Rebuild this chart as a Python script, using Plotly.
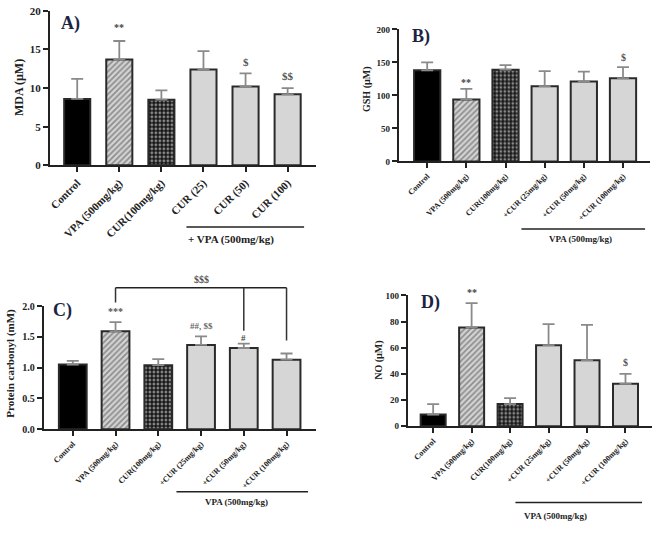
import plotly.graph_objects as go

# ---------------- data ----------------
labels_a = ["Control", "VPA (500mg/kg)", "CUR(100mg/kg)", "CUR (25)", "CUR (50)", "CUR (100)"]
labels_bcd = ["Control", "VPA (500mg/kg)", "CUR(100mg/kg)", "+CUR (25mg/kg)", "+CUR (50mg/kg)", "+CUR (100mg/kg)"]

mda_mean = [8.6, 13.7, 8.5, 12.4, 10.2, 9.2]
mda_top = [11.2, 16.1, 9.7, 14.8, 11.9, 10.0]

gsh_mean = [138, 94, 139, 114, 121, 126]
gsh_top = [150, 110, 146, 137, 136, 143]

pc_mean = [1.05, 1.59, 1.04, 1.37, 1.32, 1.13]
pc_top = [1.11, 1.74, 1.14, 1.51, 1.39, 1.23]

no_mean = [9, 75.5, 17, 62, 50.5, 32.5]
no_top = [17, 94, 21.5, 78, 77.5, 40]

# ---------------- style ----------------
SERIF = "Liberation Serif, Times New Roman, serif"
AX = "#222222"
fill_colors = ["#000000", "#d2d2d2", "#151515", "#d6d6d6", "#d6d6d6", "#d6d6d6"]
pat_shapes = ["", "/", ".", "", "", ""]
pat_fg = ["#000000", "#555555", "#ffffff", "#000000", "#000000", "#000000"]

fig = go.Figure()

panels = [
    dict(ax="", labels=labels_a, mean=mda_mean, top=mda_top,
         xdom=[48/661, 315/661], ydom=[1-163/534, 1-5/534],
         yrange=[0, 20], dtick=5, fmt="", xr=[-0.65, 5.675], bw=0.62, tfs=11, yfs=11),
    dict(ax="2", labels=labels_bcd, mean=gsh_mean, top=gsh_top,
         xdom=[398/661, 650/661], ydom=[1-159/534, 1-24/534],
         yrange=[0, 200], dtick=50, fmt="", xr=[-0.725, 5.69], bw=0.67, tfs=8, yfs=9),
    dict(ax="3", labels=labels_bcd, mean=pc_mean, top=pc_top,
         xdom=[42/661, 315/661], ydom=[1-433/534, 1-307/534],
         yrange=[0, 2.0], dtick=0.5, fmt=".1f", xr=[-0.676, 5.69], bw=0.65, tfs=8, yfs=10),
    dict(ax="4", labels=labels_bcd, mean=no_mean, top=no_top,
         xdom=[407/661, 652/661], ydom=[1-430/534, 1-296/534],
         yrange=[0, 100], dtick=20, fmt="", xr=[-0.66, 5.69], bw=0.65, tfs=8, yfs=9),
]

for p in panels:
    err = [t - m for t, m in zip(p["top"], p["mean"])]
    fig.add_trace(go.Bar(
        x=p["labels"], y=p["mean"], width=p["bw"],
        xaxis="x" + p["ax"], yaxis="y" + p["ax"],
        marker=dict(color=fill_colors, line=dict(color="#2a2a2a", width=2),
                    pattern=dict(shape=pat_shapes, fgcolor=pat_fg, bgcolor=fill_colors,
                                 size=4, solidity=0.4)),
        error_y=dict(type="data", symmetric=False, array=err,
                     arrayminus=[0] * 6, color="#8a8a8a", thickness=1.8, width=6),
        showlegend=False, hoverinfo="skip"))
    xa = dict(domain=p["xdom"], anchor="y" + p["ax"], type="category",
              range=p["xr"], showline=True, linewidth=2, linecolor=AX,
              ticks="outside", ticklen=5, tickwidth=2, tickcolor=AX,
              tickangle=-45, showgrid=False, zeroline=False,
              tickfont=dict(family=SERIF, size=p["tfs"], color="#222", weight="bold"))
    ya = dict(domain=p["ydom"], anchor="x" + p["ax"], range=p["yrange"],
              dtick=p["dtick"], tickformat=p["fmt"], showline=True, linewidth=2,
              linecolor=AX, ticks="outside", ticklen=5, tickwidth=2, tickcolor=AX,
              showgrid=False, zeroline=False,
              tickfont=dict(family=SERIF, size=p["yfs"], color="#222", weight="bold"))
    fig.update_layout({"xaxis" + p["ax"]: xa, "yaxis" + p["ax"]: ya})


def py(panel, v):
    """value -> paper y coordinate for a panel (annotations above the axis range)."""
    d0, d1 = panel["ydom"]
    r0, r1 = panel["yrange"]
    return d0 + (v - r0) / (r1 - r0) * (d1 - d0)


ann = []
def text(x, y, s, xref, yref, size=10, angle=0, color="#333", xanchor="center", weight="bold"):
    ann.append(dict(x=x, y=y, text=s, xref=xref, yref=yref, showarrow=False,
                    textangle=angle, xanchor=xanchor, yanchor="middle",
                    font=dict(family=SERIF, size=size, color=color, weight=weight)))

D = "&#36;"

# y-axis titles
text(17/661, 1-83/534, "MDA (µM)", "paper", "paper", size=12, angle=-90, color="#222")
text(366/661, 1-85/534, "GSH (µM)", "paper", "paper", size=10, angle=-90, color="#222")
text(9/661, 1-365/534, "Protein carbonyl (mM)", "paper", "paper", size=11, angle=-90, color="#222")
text(378/661, 1-362/534, "NO (µM)", "paper", "paper", size=10, angle=-90, color="#222")

# panel labels
NAVY = "#1b2442"
text(69/661, 1-18/534, "A)", "paper", "paper", size=18, color=NAVY)
text(420/661, 1-31/534, "B)", "paper", "paper", size=18, color=NAVY)
text(61/661, 1-312/534, "C)", "paper", "paper", size=18, color=NAVY)
text(430/661, 1-303/534, "D)", "paper", "paper", size=18, color=NAVY)

pa, pb, pc, pd = panels

# significance marks
text(labels_a[1], py(pa, 17.8), "**", "x", "paper", size=10, color="#444")
text(labels_a[4], py(pa, 13.4), D, "x", "paper", size=11, color="#555")
text(labels_a[5], py(pa, 11.6), D + D, "x", "paper", size=11, color="#555")
text(labels_bcd[1], py(pb, 120), "**", "x2", "paper", size=10, color="#444")
text(labels_bcd[5], py(pb, 157), D, "x2", "paper", size=10, color="#555")
text(labels_bcd[1], py(pc, 1.92), "***", "x3", "paper", size=10, color="#555")
text(labels_bcd[3], py(pc, 1.67), "##, " + D + D, "x3", "paper", size=9, color="#666")
text(labels_bcd[4], py(pc, 1.48), "#", "x3", "paper", size=9, color="#444")
text(3.0, py(pc, 2.43), D + D + D, "x3", "paper", size=10, color="#555")
text(labels_bcd[1], py(pd, 102), "**", "x4", "paper", size=10, color="#444")
text(labels_bcd[5], py(pd, 48.5), D, "x4", "paper", size=10, color="#555")

# group captions
text(185/661, 1-239/534, "+ VPA (500mg/kg)", "paper", "paper", size=11, color="#222", xanchor="left")
text(580/661, 1-238/534, "VPA (500mg/kg)", "paper", "paper", size=9, color="#222")
text(235/661, 1-507/534, "VPA (500mg/kg)", "paper", "paper", size=9, color="#222")
text(555/661, 1-522/534, "VPA (500mg/kg)", "paper", "paper", size=9, color="#222")

shapes = []
def hline(x0, x1, y, xref="paper", yref="paper", w=1.5):
    shapes.append(dict(type="line", x0=x0, x1=x1, y0=y, y1=y, xref=xref, yref=yref,
                       line=dict(color="#222", width=w)))
def vline(x, y0, y1, xref, yref, w=1.5):
    shapes.append(dict(type="line", x0=x, x1=x, y0=y0, y1=y1, xref=xref, yref=yref,
                       line=dict(color="#333", width=w)))

hline(185/661, 303/661, 1-226/534)
hline(521/661, 645/661, 1-228/534)
hline(175/661, 307/661, 1-497/534)
hline(515/661, 642/661, 1-508/534)

# bracket in panel C
hline(1, 5, py(pc, 2.30), "x3", "paper")
vline(1, py(pc, 2.30), py(pc, 2.06), "x3", "paper")
vline(4, py(pc, 2.30), py(pc, 1.60), "x3", "paper")
vline(5, py(pc, 2.30), py(pc, 1.44), "x3", "paper")

fig.update_layout(width=661, height=534, margin=dict(l=0, r=0, t=0, b=0),
                  paper_bgcolor="white", plot_bgcolor="white",
                  annotations=ann, shapes=shapes, bargap=0.3)

fig.write_html("out.html")
